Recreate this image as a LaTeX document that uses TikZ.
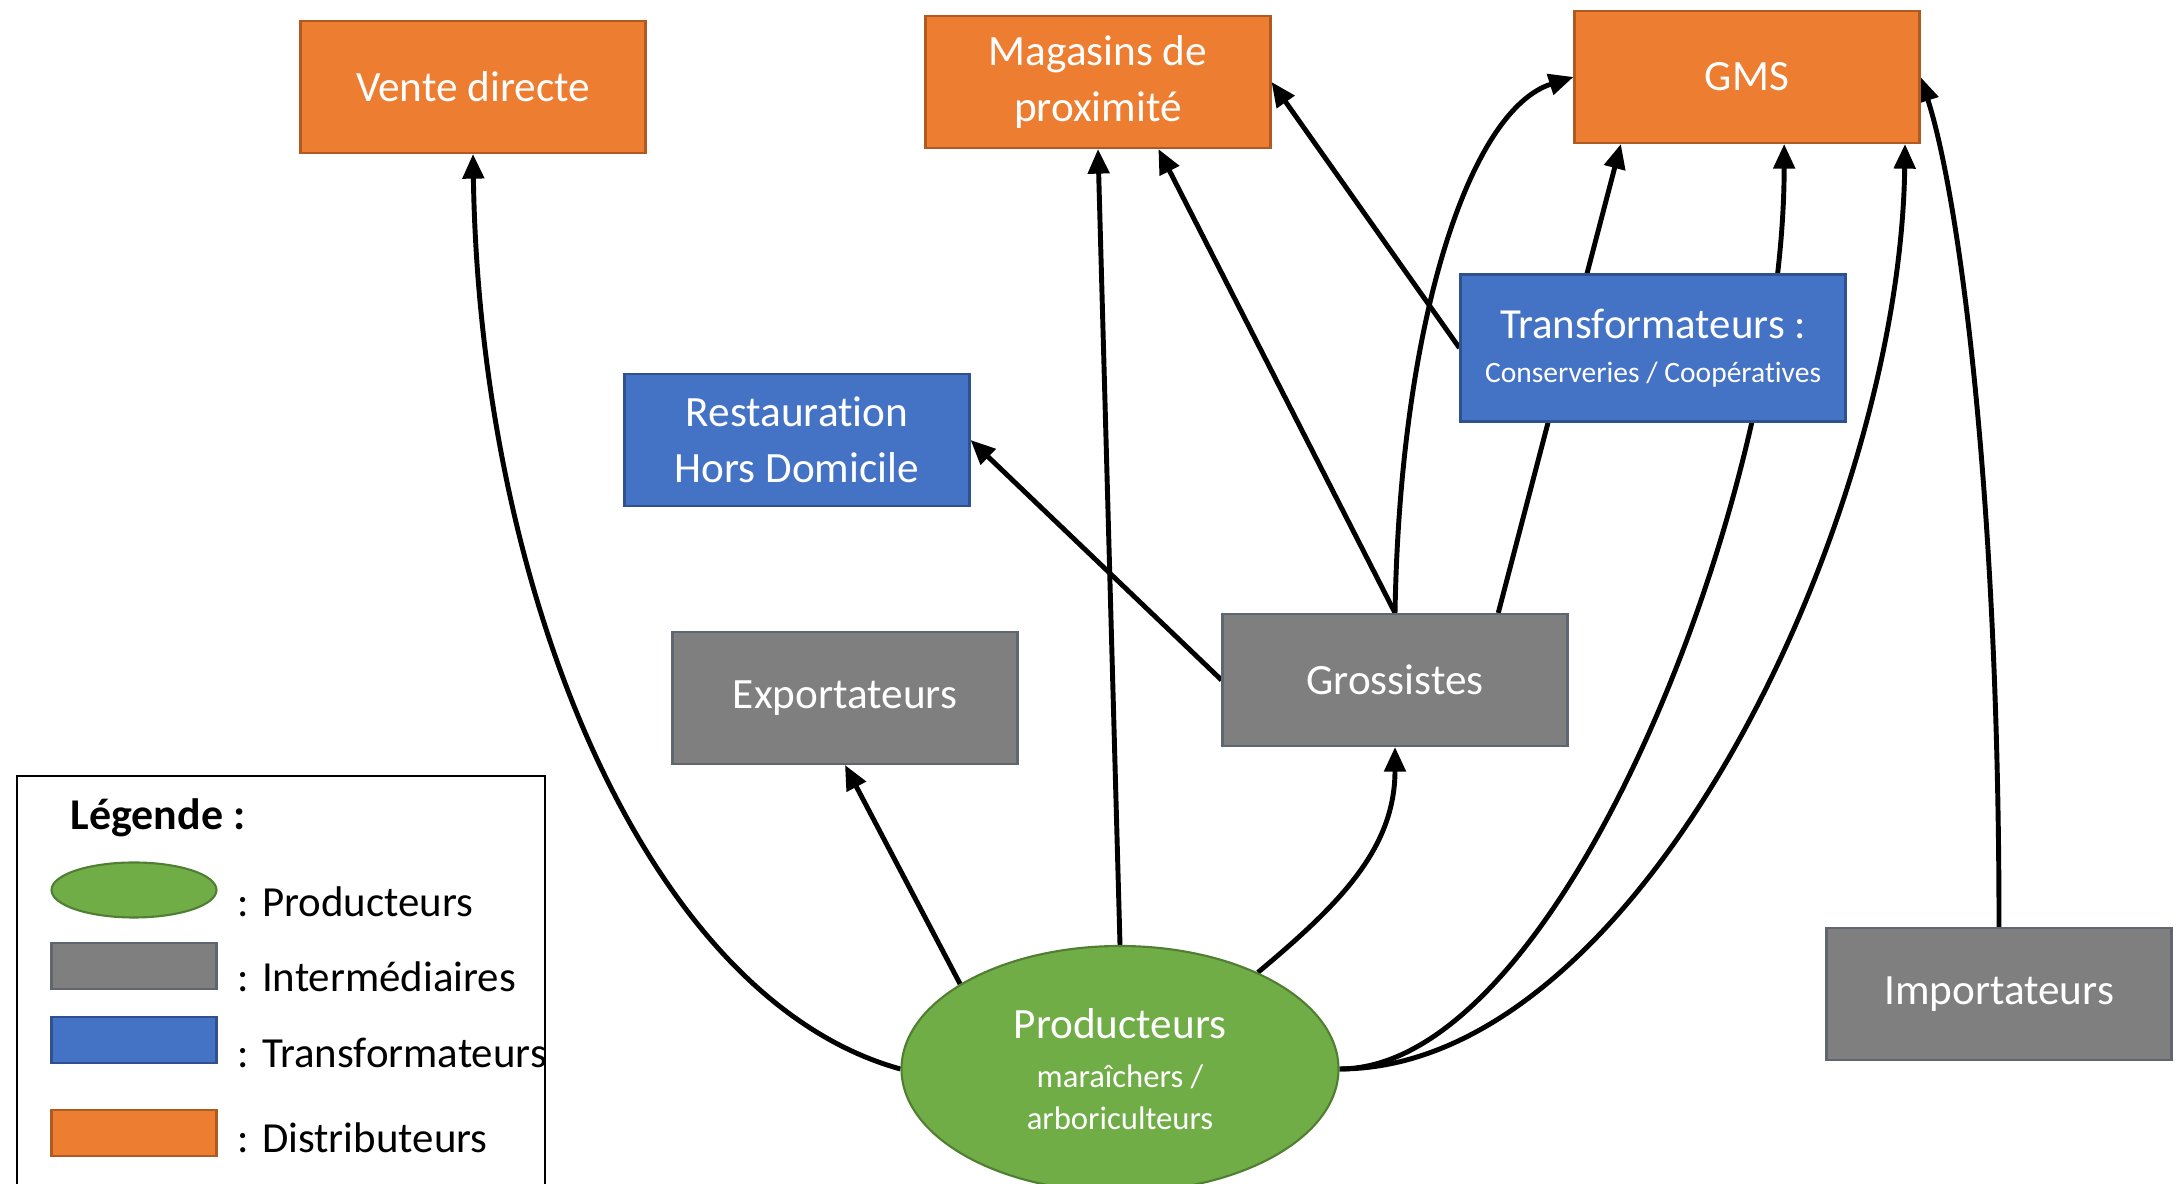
\documentclass[tikz,border=0pt]{standalone}
\usepackage{fontspec}
\setmainfont{Carlito}[Ligatures=NoCommon]
\usetikzlibrary{arrows.meta,backgrounds,shapes.geometric}

\definecolor{orangeD}{HTML}{ED7D31}
\definecolor{orangeB}{HTML}{AE5A21}
\definecolor{bleuD}{HTML}{4472C4}
\definecolor{bleuB}{HTML}{2F528F}
\definecolor{grisD}{HTML}{7F7F7F}
\definecolor{grisB}{HTML}{5F6670}
\definecolor{vertD}{HTML}{70AD47}
\definecolor{vertB}{HTML}{507E32}

\tikzset{
  boite/.style={draw, line width=0.6pt, minimum width=3.45cm, minimum height=1.32cm,
    inner sep=2pt, text=white, align=center, font=\fontsize{12.3}{16}\selectfont},
  distrib/.style={boite, fill=orangeD, draw=orangeB},
  interm/.style={boite, fill=grisD, draw=grisB},
  transf/.style={boite, fill=bleuD, draw=bleuB},
  prodell/.style={ellipse, fill=vertD, draw=vertB, line width=0.6pt},
  legtxt/.style={anchor=west, inner sep=0pt, font=\fontsize{12.2}{15}\selectfont},
  fleche/.style={line width=1.4pt, -{Triangle[length=7pt,width=6pt]}},
}

\begin{document}
\begin{tikzpicture}
\useasboundingbox (0,0) rectangle (21.82,11.84);

% distributeurs
\node[distrib] (vente) at (4.73,10.97) {Vente directe};
\node[distrib] (magasins) at (10.98,11.02) {Magasins de\\proximité};
\node[distrib] (gms) at (17.47,11.07) {GMS};

% transformateurs
\node[transf] (resto) at (7.97,7.44) {Restauration\\Hors Domicile};
\node[transf, minimum width=3.85cm, minimum height=1.47cm, font=\fontsize{12.2}{13.4}\selectfont] (transfo) at (16.53,8.36)
  {Transformateurs :\\[-1pt]{\fontsize{8.4}{9}\selectfont Conserveries / Coopératives}};

% intermediaires
\node[interm] (export) at (8.45,4.86) {Exportateurs};
\node[interm] (gros) at (13.95,5.04) {Grossistes};
\node[interm] (import) at (19.99,1.90) {Importateurs};

% producteurs
\node[prodell, minimum width=4.37cm, minimum height=2.46cm, text=white, align=center, inner sep=0pt,
  font=\fontsize{12.3}{15}\selectfont] (prod) at (11.20,1.15)
  {Producteurs\\[-1pt]{\fontsize{9.3}{12}\selectfont maraîchers /}\\[-3pt]{\fontsize{9.3}{12}\selectfont arboriculteurs}};

% flux
\begin{scope}[on background layer]
\path[draw,fleche] (prod.west) .. controls (6.50,1.84) and (4.80,5.84) .. (vente.south);
\path[draw,fleche] (prod.north) -- (magasins.south);
\path[draw,fleche] (prod.152) -- (export.south);
\path[draw,fleche] (prod.35) to[out=40,in=-90] (gros.south);
\path[draw,fleche] (prod.east) .. controls (15.60,1.15) and (17.84,6.84) .. (gms.-61);
\path[draw,fleche] (prod.east) .. controls (16.40,1.15) and (19.00,6.64) .. (gms.-23);
\path[draw,fleche] (gros.north) -- (magasins.-48);
\path[draw,fleche] (gros.33) -- (gms.208);
\path[draw,fleche] (gros.north) .. controls (14.00,8.64) and (14.70,10.74) .. (gms.west);
\path[draw,fleche] (gros.west) -- (resto.east);
\path[draw,fleche] (transfo.west) -- (magasins.east);
\path[draw,fleche] (import.north) .. controls (19.99,6.84) and (19.60,9.84) .. (gms.east);
\end{scope}

% legende
\draw[line width=0.6pt] (0.17,-0.2) rectangle (5.45,4.08);
\node[anchor=west, inner sep=0pt, font=\bfseries\fontsize{12.5}{15}\selectfont] (legtitre) at (0.70,3.66) {Légende :};
\node[prodell, minimum width=1.65cm, minimum height=0.55cm, inner sep=0pt] (legprod) at (1.34,2.94) {};
\node[legtxt] (legprodtxt) at (2.37,2.82) {: Producteurs};
\node[draw=grisB, fill=grisD, line width=0.6pt, minimum width=1.65cm, minimum height=0.46cm] (leginterm) at (1.34,2.18) {};
\node[legtxt] (legintermtxt) at (2.37,2.07) {: Intermédiaires};
\node[draw=bleuB, fill=bleuD, line width=0.6pt, minimum width=1.65cm, minimum height=0.46cm] (legtransf) at (1.34,1.44) {};
\node[legtxt] (legtransftxt) at (2.37,1.31) {: Transformateurs};
\node[draw=orangeB, fill=orangeD, line width=0.6pt, minimum width=1.65cm, minimum height=0.46cm] (legdistrib) at (1.34,0.51) {};
\node[legtxt] (legdistribtxt) at (2.37,0.46) {: Distributeurs};
\end{tikzpicture}
\end{document}
